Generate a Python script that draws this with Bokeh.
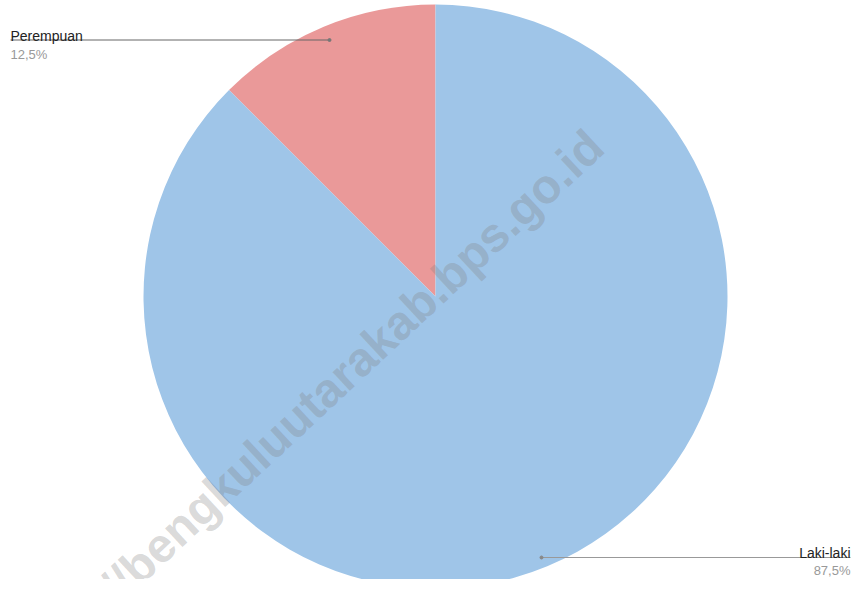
import numpy as np
from bokeh.plotting import figure
from bokeh.models import ColumnDataSource
from bokeh.core.properties import value
from bokeh.embed import file_html
from bokeh.resources import INLINE

# ---- data ----
categories = ["Perempuan", "Laki-laki"]
values = [12.5, 87.5]
colors = ["#ea9999", "#9fc5e8"]
watermark = "://bengkuluutarakab.bps.go.id"

W, H = 852, 579


def X(rx):
    return rx


def Y(ry):
    return H - ry


p = figure(width=W, height=H, x_range=(0, W), y_range=(0, H),
           output_backend="svg", toolbar_location=None, min_border=0)
p.axis.visible = False
p.grid.visible = False
p.outline_line_color = None
p.background_fill_color = "white"
p.border_fill_color = "white"

# pie: start at 12 o'clock, go counterclockwise
total = sum(values)
fr = np.array(values) / total
ends = 90 + np.cumsum(fr) * 360
starts = np.concatenate([[90], ends[:-1]])
src = ColumnDataSource(dict(start=starts, end=ends, color=colors, cat=categories))
cx, cy, r = X(435), Y(296), 292
p.wedge(x=cx, y=cy, radius=r, start_angle="start", end_angle="end",
        start_angle_units="deg", end_angle_units="deg", direction="anticlock",
        fill_color="color", line_color=None, source=src)

# watermark
p.text(x=[X(96)], y=[Y(604)], text=[watermark], angle=43.0, angle_units="deg",
       text_font=value("Liberation Sans"), text_font_style="bold",
       text_font_size="48px", text_color="#808080", text_alpha=0.3,
       text_baseline="alphabetic", text_align="left")

pct = [f"{v / total * 100:.1f}".replace(".", ",") + "%" for v in values]
font = value("Liberation Sans")

# Perempuan label (left, top)
p.segment(x0=[X(10)], y0=[Y(39.5)], x1=[X(329)], y1=[Y(39.5)], line_color="#666666", line_width=1)
p.scatter(x=[X(329)], y=[Y(39.5)], size=3, color="#777777")
p.text(x=[X(10)], y=[Y(35)], text=[categories[0]], text_font=font, text_font_size="14px",
       text_color="#222222", text_baseline="alphabetic", text_align="left")
p.text(x=[X(10)], y=[Y(54)], text=[pct[0]], text_font=font, text_font_size="13px",
       text_color="#999999", text_baseline="alphabetic", text_align="left")

# Laki-laki label (right, bottom)
p.segment(x0=[X(541)], y0=[Y(557)], x1=[X(850)], y1=[Y(557)], line_color="#999999", line_width=1)
p.scatter(x=[X(541)], y=[Y(557)], size=3, color="#888888")
p.text(x=[X(850)], y=[Y(552)], text=[categories[1]], text_font=font, text_font_size="14px",
       text_color="#222222", text_baseline="alphabetic", text_align="right")
p.text(x=[X(850)], y=[Y(570)], text=[pct[1]], text_font=font, text_font_size="13px",
       text_color="#999999", text_baseline="alphabetic", text_align="right")

open("out.html", "w").write(file_html(p, INLINE))
